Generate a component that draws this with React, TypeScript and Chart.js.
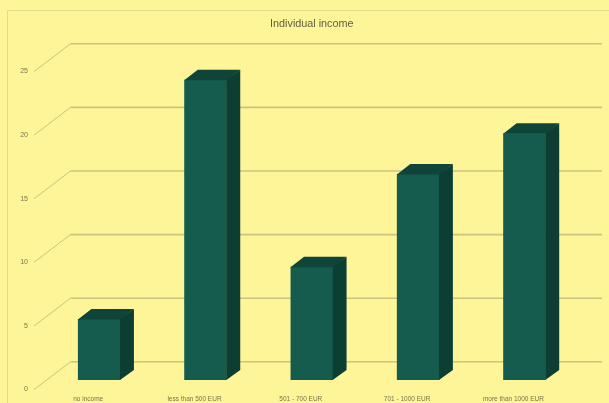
import React, { useEffect, useRef } from "react";
import { Chart, registerables } from "chart.js";

Chart.register(...registerables);

const categories = ["no income", "less than 500 EUR", "501 - 700 EUR", "701 - 1000 EUR", "more than 1000 EUR"];
const shares = [4.8, 23.6, 8.9, 16.2, 19.4];
const yTicks = [0, 5, 10, 15, 20, 25];

const BG = "#fef598";
const FRONT = "#165c4e";
const SIDE = "#0c3e33";
const TOP = "#0f4438";
const GRID = "#cbc47e";

const frame = {
  id: "frame",
  beforeDraw(chart: any) {
    const { ctx, width, height } = chart;
    ctx.save();
    ctx.fillStyle = BG;
    ctx.fillRect(0, 0, width, height);
    ctx.strokeStyle = "#e3dc8e";
    ctx.lineWidth = 1;
    ctx.beginPath();
    ctx.moveTo(7.5, height);
    ctx.lineTo(7.5, 10.5);
    ctx.lineTo(width, 10.5);
    ctx.stroke();
    ctx.restore();
  },
};

const grid3d = {
  id: "grid3d",
  beforeDatasetsDraw(chart: any) {
    const { ctx, scales } = chart;
    const y = scales.y;
    ctx.save();
    ctx.strokeStyle = GRID;
    yTicks.forEach((v) => {
      const p = y.getPixelForValue(v);
      ctx.lineWidth = 1;
      ctx.beginPath();
      ctx.moveTo(34, p + 9.6);
      ctx.lineTo(70.5, p - 18.2);
      ctx.stroke();
      ctx.lineWidth = 1.6;
      ctx.beginPath();
      ctx.moveTo(70.5, p - 18.2);
      ctx.lineTo(602, p - 18.2);
      ctx.stroke();
    });
    ctx.restore();
  },
};

const bars3d = {
  id: "bars3d",
  afterDatasetsDraw(chart: any) {
    const { ctx } = chart;
    const dx = 13.5;
    const dy = 10;
    ctx.save();
    chart.getDatasetMeta(0).data.forEach((bar: any) => {
      const { x, y, base, width } = bar.getProps(["x", "y", "base", "width"], true);
      const l = x - width / 2;
      const r = x + width / 2;
      ctx.fillStyle = TOP;
      ctx.beginPath();
      ctx.moveTo(l, y + 0.5);
      ctx.lineTo(l + dx, y - dy);
      ctx.lineTo(r + dx, y - dy);
      ctx.lineTo(r, y + 0.5);
      ctx.closePath();
      ctx.fill();
      ctx.fillStyle = SIDE;
      ctx.beginPath();
      ctx.moveTo(r - 0.4, y);
      ctx.lineTo(r + dx, y - dy);
      ctx.lineTo(r + dx, base - dy);
      ctx.lineTo(r - 0.4, base);
      ctx.closePath();
      ctx.fill();
    });
    ctx.restore();
  },
};

export default function App() {
  const ref = useRef<HTMLCanvasElement>(null);
  useEffect(() => {
    document.body.style.margin = "0";
    const chart = new Chart(ref.current!, {
      type: "bar",
      data: {
        labels: categories,
        datasets: [
          {
            label: "Individual income",
            data: shares,
            backgroundColor: FRONT,
            borderWidth: 0,
            barPercentage: 0.4,
            categoryPercentage: 1,
          },
        ],
      },
      options: {
        responsive: false,
        animation: false,
        devicePixelRatio: 1,
        layout: { padding: { left: 0, right: 31.4, top: 0, bottom: 0 } },
        plugins: {
          legend: { display: false },
          tooltip: { enabled: false },
          title: {
            display: true,
            text: "Individual income",
            fullSize: false,
            color: "#5f5d40",
            font: { family: "'Liberation Sans', Arial, sans-serif", size: 10.8, weight: "normal" },
            padding: { top: 18, bottom: 31 },
          },
        },
        scales: {
          x: {
            grid: { display: false, drawTicks: false },
            border: { display: false },
            afterFit: (s: any) => {
              s.height = 23;
            },
            ticks: {
              color: "#77744c",
              font: { family: "'Liberation Sans', Arial, sans-serif", size: 6.5 },
              padding: 15,
              labelOffset: -11,
              maxRotation: 0,
              autoSkip: false,
            },
          },
          y: {
            min: 0,
            max: 25,
            grid: { display: false, drawTicks: false },
            border: { display: false },
            afterFit: (s: any) => {
              s.width = 46;
            },
            afterBuildTicks: (s: any) => {
              s.ticks = yTicks.map((value) => ({ value }));
            },
            ticks: {
              color: "#77744c",
              font: { family: "'Liberation Sans', Arial, sans-serif", size: 7 },
              padding: 18,
              labelOffset: 9.5,
            },
          },
        },
      },
      plugins: [frame, grid3d, bars3d],
    } as any);
    return () => chart.destroy();
  }, []);
  return <canvas ref={ref} width={609} height={403} style={{ display: "block", filter: "blur(0.4px)" }} />;
}
